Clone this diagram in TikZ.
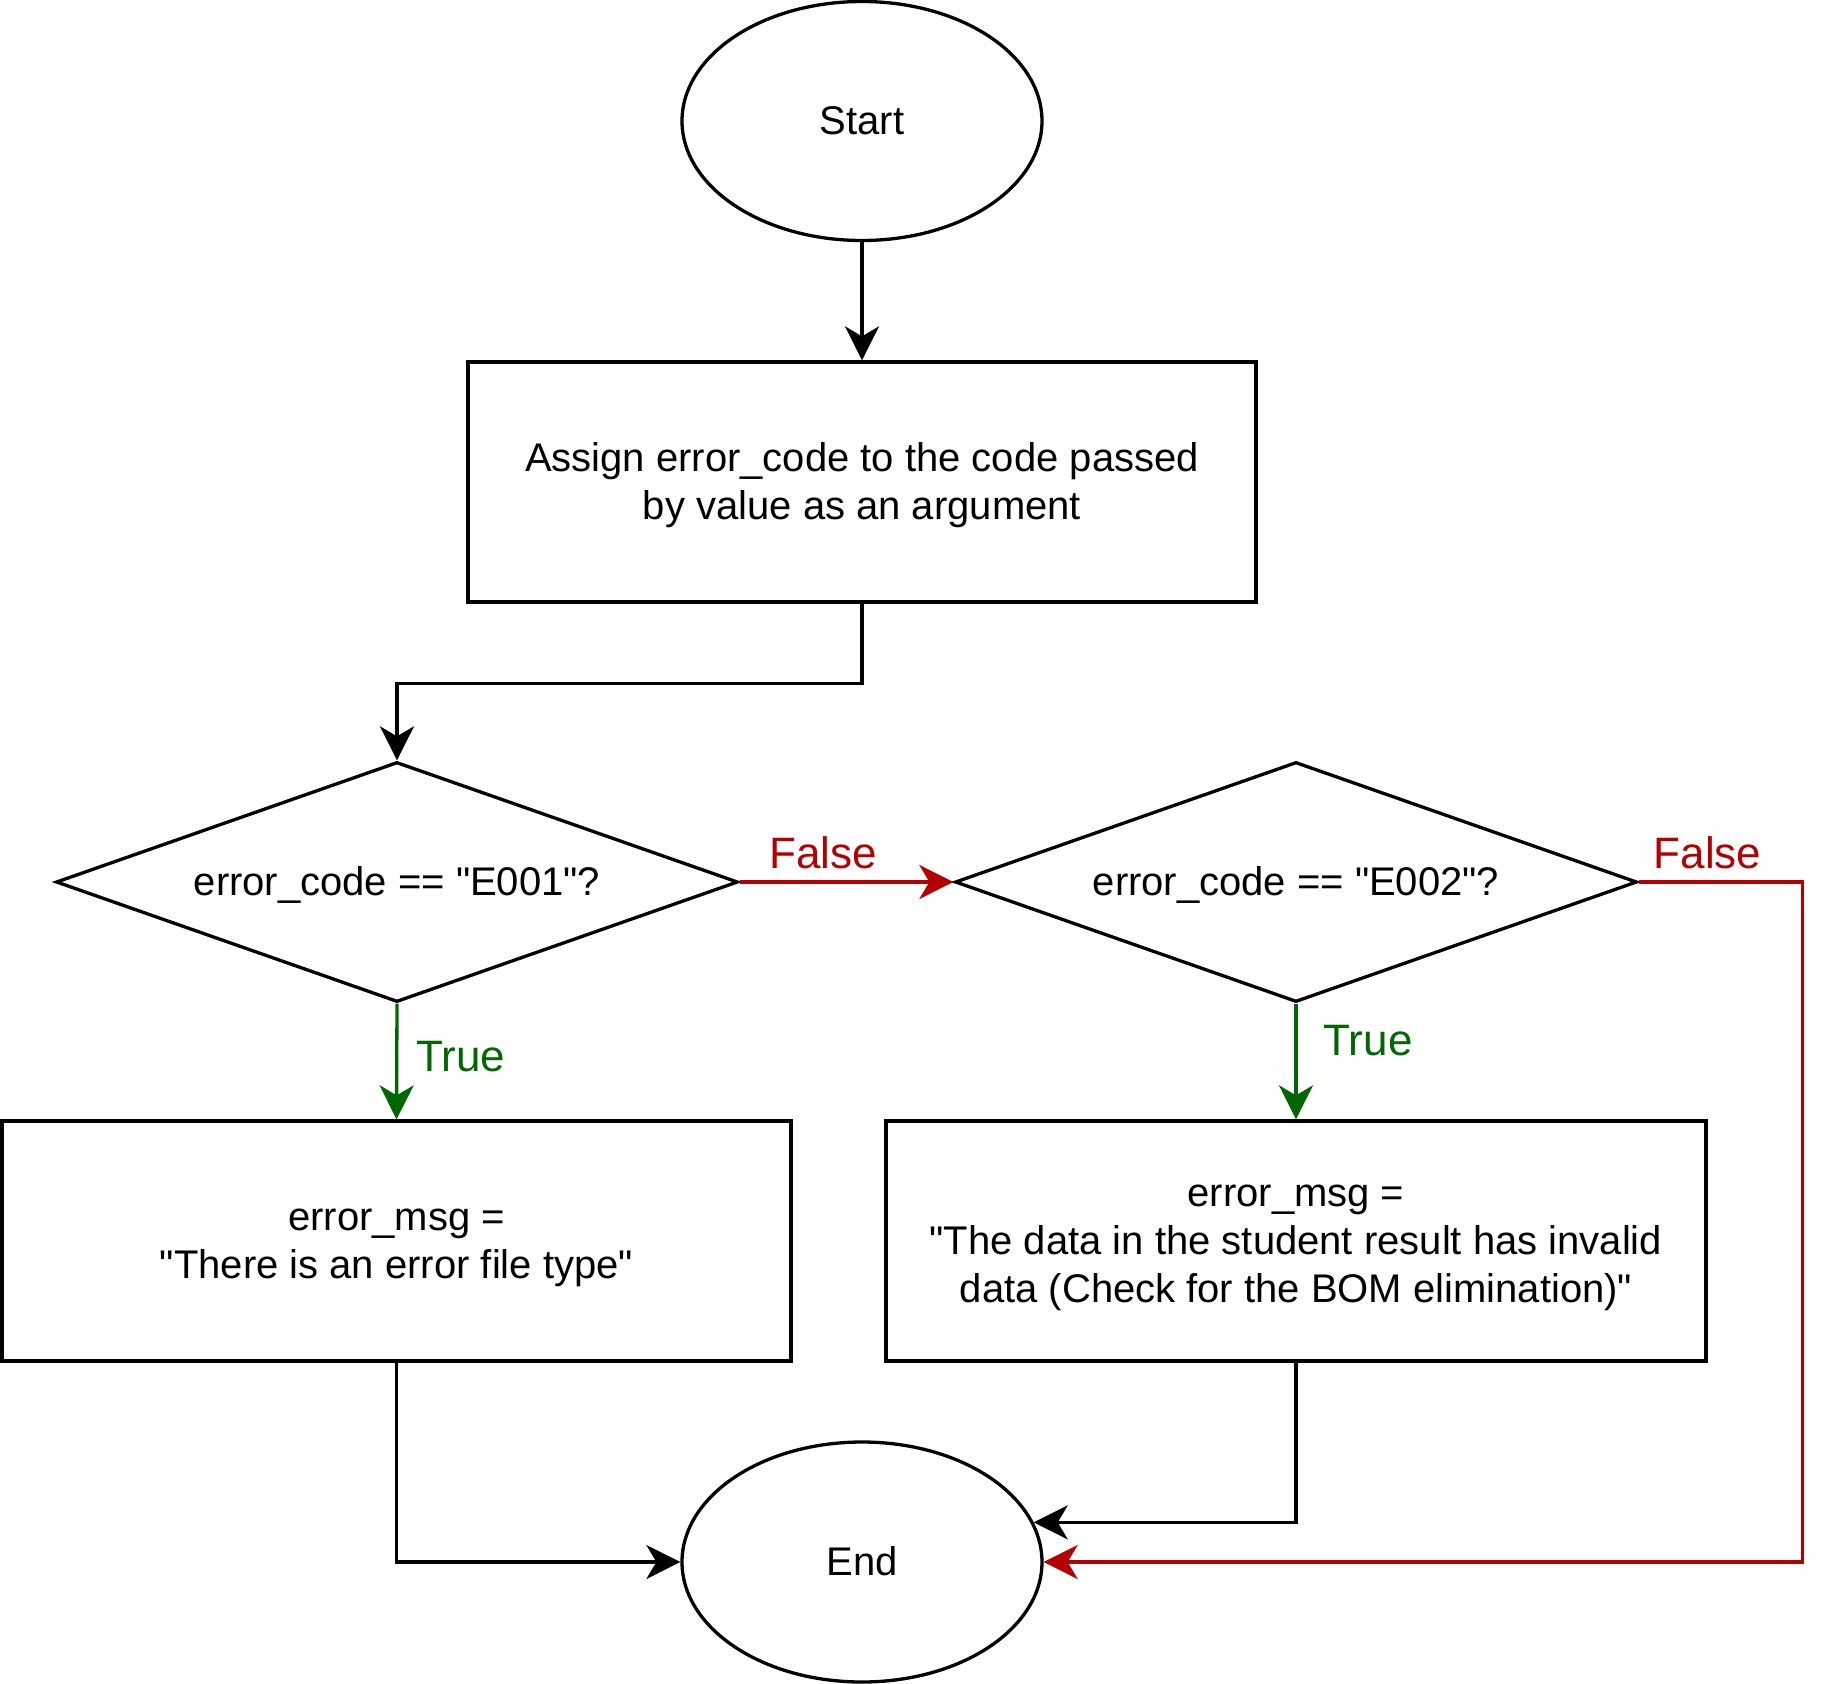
\documentclass[tikz,border=0pt]{standalone}
\usepackage{fontspec}
\setmainfont{Liberation Sans}[Ligatures=TeXOff]
\usetikzlibrary{shapes.geometric,arrows.meta}
\definecolor{falsered}{HTML}{B20000}
\definecolor{truegreen}{HTML}{006600}
% line strut with the ascent and descent of the font, so every line box is alike
\newcommand\lstrut{\rule[-0.212em]{0pt}{1.117em}}
\begin{document}
\begin{tikzpicture}[x=1pt,y=-1pt,
  every node/.style={font=\fontsize{40pt}{48pt}\selectfont, inner sep=0pt},
  term/.style={ellipse, draw, line width=3.3pt, minimum width=360pt, minimum height=239pt},
  procbox/.style={rectangle, draw, line width=3.3pt, minimum height=240pt, align=center},
  decide/.style={diamond, draw, line width=3.3pt, aspect=2.84, minimum width=682pt, minimum height=240pt},
  tip/.style={-{Stealth[length=34pt,width=34pt,inset=10pt]}},
  flow/.style={tip, line width=3.3pt},
  flowno/.style={tip, line width=3.3pt, draw=falsered, color=falsered},
  flowyes/.style={tip, line width=3.3pt, draw=truegreen, color=truegreen},
  branchlbl/.style={font=\fontsize{44pt}{50pt}\selectfont}
]
\useasboundingbox (0,0) rectangle (1840,1684);

% shapes
\node[term] (start) at (862,121) {\lstrut Start};
\node[procbox, minimum width=788pt] (assign) at (862,482)
  {\lstrut Assign error\_code to the code passed\\\lstrut by value as an argument};
\node[decide] (d1) at (397,882) {\lstrut error\_code == "E001"?};
\node[decide] (d2) at (1296,882) {\lstrut error\_code == "E002"?};
\node[procbox, minimum width=789pt] (msg1) at (396.5,1241)
  {\lstrut error\_msg =\\\lstrut "There is an error file type"};
\node[procbox, minimum width=820pt] (msg2) at (1296,1241)
  {\lstrut error\_msg =\\\lstrut "The data in the student result has invalid\\\lstrut data (Check for the BOM elimination)"};
\node[term, minimum height=240pt] (end) at (862,1562) {\lstrut End};

% connectors
\draw[flow] (start) -- (assign);
\draw[flow] (assign.south) -- ++(0,80) -| (d1.north);
\draw[flowno] (d1.east) -- node[pos=0.39, anchor=base, yshift=14pt, branchlbl, text=falsered] (f1) {False} (d2.west);
\draw[flowyes] (d1.south) -- node[pos=0.59, anchor=base west, xshift=18pt, branchlbl, text=truegreen] (t1) {True} (msg1.north);
\draw[flowyes] (d2.south) -- node[pos=0.445, anchor=base west, xshift=26pt, branchlbl, text=truegreen] (t2) {True} (msg2.north);
\draw[flow] (msg1.south) |- (end.west);
\draw[flow] (msg2.south) |- (end.13);
\draw[flowno] (d2.east) -- node[pos=0.42, anchor=base, yshift=14pt, branchlbl, text=falsered] (f2) {False} ++(164,0) |- (end.east);
\end{tikzpicture}
\end{document}
